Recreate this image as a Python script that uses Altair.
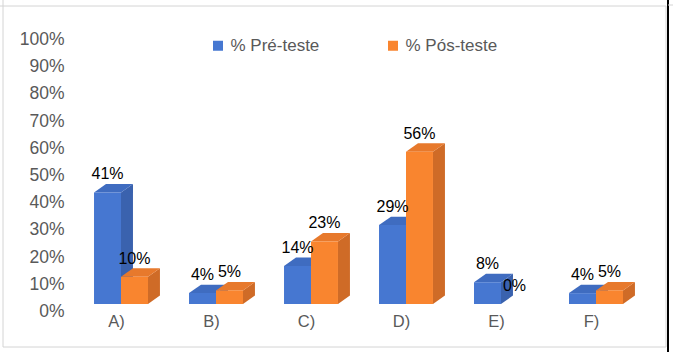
import altair as alt
import pandas as pd

# ---- data ----
categories = ["A)", "B)", "C)", "D)", "E)", "F)"]
series = ["% Pré-teste", "% Pós-teste"]
pre_values = [41, 4, 14, 29, 8, 4]
post_values = [10, 5, 23, 56, 0, 5]

# ---- style ----
FRONT = ["#4677D1", "#F9852F"]
TOP = ["#3F6CC0", "#E7792C"]
SIDE = ["#3A62AE", "#CF6B27"]
BAR_W = 0.284
STARTS = [0.216, 0.5]
DX = 0.126   # depth, in category units
DY = 3.1     # depth, in percent units
FONT = "Liberation Sans"
GREY = "#595959"

rows, tops, sides = [], [], []
for i, c in enumerate(categories):
    for s, vals in enumerate([pre_values, post_values]):
        v = vals[i]
        x0 = i + STARTS[s]
        x1 = x0 + BAR_W
        bar = f"{i}-{s}"
        rows.append(dict(cat=c, series=series[s], bar=bar, v=v, y0=0, x0=x0, x1=x1,
                         xm=(x0 + x1) / 2, label=f"{v}%"))
        if v > 0:
            tops.append(dict(bar=bar, yy=v, xa=x0, xb=x1, col=TOP[s]))
            tops.append(dict(bar=bar, yy=v + DY, xa=x0 + DX, xb=x1 + DX, col=TOP[s]))
            sides.append(dict(bar=bar, xx=x1, ya=0, yb=v, col=SIDE[s]))
            sides.append(dict(bar=bar, xx=x1 + DX, ya=DY, yb=v + DY, col=SIDE[s]))

df = pd.DataFrame(rows)
df_top = pd.DataFrame(tops)
df_side = pd.DataFrame(sides)
df_front = df[df.v > 0]

label_arr = "[" + ",".join(f"'{c}'" for c in categories) + "]"
x_scale = alt.Scale(domain=[0, 6], nice=False, zero=False)
y_scale = alt.Scale(domain=[0, 100], nice=False)
x_axis = alt.Axis(values=[i + 0.5 for i in range(len(categories))],
                  labelExpr=f"{label_arr}[floor(datum.value)]",
                  title=None, ticks=False, domain=False, grid=False,
                  labelFont=FONT, labelFontSize=16.5, labelColor=GREY,
                  labelPadding=9, labelOffset=-5)
y_axis = alt.Axis(values=list(range(0, 101, 10)), labelExpr="datum.value + '%'",
                  title=None, ticks=False, domain=False, grid=False,
                  labelFont=FONT, labelFontSize=17.5, labelColor=GREY,
                  labelPadding=9.5, labelOffset=7.5)

side = alt.Chart(df_side).mark_area(orient="vertical", opacity=1).encode(
    x=alt.X("xx:Q", scale=x_scale, axis=x_axis),
    y=alt.Y("ya:Q", scale=y_scale, axis=y_axis),
    y2="yb:Q",
    detail="bar:N",
    color=alt.Color("col:N", scale=None),
)

top = alt.Chart(df_top).mark_area(orient="horizontal", opacity=1).encode(
    y=alt.Y("yy:Q", scale=y_scale, axis=y_axis),
    x=alt.X("xa:Q", scale=x_scale, axis=x_axis),
    x2="xb:Q",
    detail="bar:N",
    color=alt.Color("col:N", scale=None),
)

front = alt.Chart(df_front).mark_rect().encode(
    x=alt.X("x0:Q", scale=x_scale, axis=x_axis),
    x2="x1:Q",
    y=alt.Y("y0:Q", scale=y_scale, axis=y_axis),
    y2="v:Q",
    color=alt.Color("series:N", scale=alt.Scale(domain=series, range=FRONT),
                    legend=alt.Legend(orient="none", legendX=136, legendY=5,
                                      direction="horizontal", title=None,
                                      symbolType="square", symbolSize=100,
                                      symbolStrokeWidth=0, labelFont=FONT,
                                      labelFontSize=17, labelColor=GREY,
                                      columnPadding=65, labelOffset=4)),
)

labels = alt.Chart(df).mark_text(dy=-13, baseline="alphabetic", font=FONT,
                                 fontSize=16, color="black").encode(
    x=alt.X("xm:Q", scale=x_scale, axis=x_axis),
    y=alt.Y("v:Q", scale=y_scale, axis=y_axis),
    text="label:N",
)

# frame lines (decoration, pixel positions relative to plot origin)
frame_df = pd.DataFrame({"k": [0]})
def rule(x, x2, y, y2, color, w=1):
    return alt.Chart(frame_df).mark_rule(color=color, strokeWidth=w).encode(
        x=alt.value(x), x2=alt.value(x2), y=alt.value(y), y2=alt.value(y2))

frame = (rule(-73.5, 592.5, -26, -26, "#d4d4d4")
         + rule(-70.5, -70.5, -32, 315, "#d4d4d4")
         + rule(-70.5, 592.5, 315, 315, "#d4d4d4")
         + rule(592.5, 592.5, -26, 315, "#d4d4d4")
         + rule(594.5, 594.5, -32, 320, "black", 2)
         + rule(594.5, 599.5, -27, -27, "#d4d4d4"))

chart = alt.layer(side, top, front, labels, frame).properties(
    width=570, height=272,
    padding={"left": 73.5, "top": 32, "right": 29.5, "bottom": 48},
    autosize=alt.AutoSizeParams(type="none"),
    background="white",
).configure_view(stroke=None)

chart.save("out.html", embed_options={"renderer": "svg", "actions": False})
